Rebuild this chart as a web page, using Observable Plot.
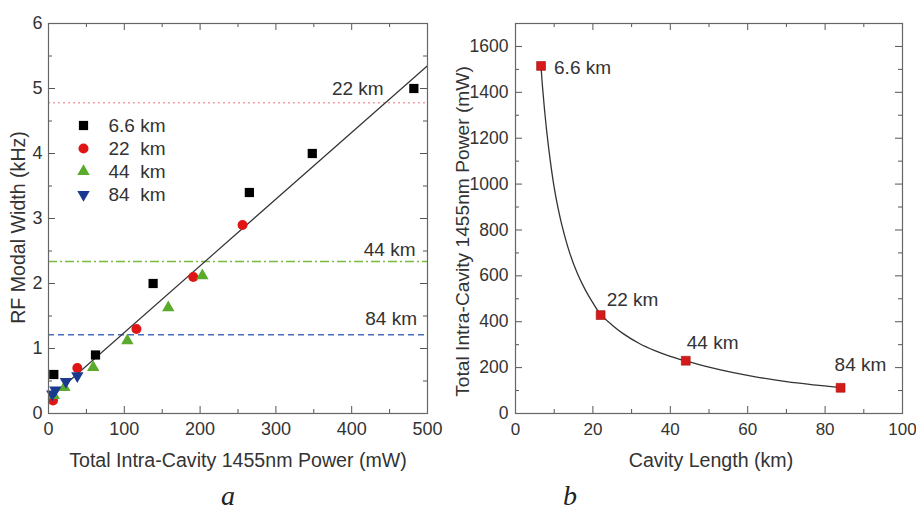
<!DOCTYPE html>
<html><head><meta charset="utf-8">
<script src="https://cdn.jsdelivr.net/npm/d3@7"></script>
<script src="https://cdn.jsdelivr.net/npm/@observablehq/plot@0.6"></script>
<style>
body{margin:0;background:#fff;}
#wrap{position:relative;width:916px;height:509px;overflow:hidden;background:#fff;}
#wrap svg{position:absolute;top:0;overflow:visible;}
#wrap svg text{white-space:pre;}
.cap{position:absolute;font-family:"Liberation Serif","Times New Roman",serif;font-style:italic;font-size:28px;color:#222;line-height:0.8;}
</style></head><body><div id="wrap"></div>
<script>
// ---------- Panel a data ----------
const seriesNames = ["6.6 km", "22  km", "44  km", "84  km"];
const power66 = [7, 62, 138, 265, 348, 482];
const width66 = [0.6, 0.9, 2.0, 3.4, 4.0, 5.0];
const power22 = [6, 38, 116, 191, 256];
const width22 = [0.2, 0.7, 1.3, 2.1, 2.9];
const power44 = [7, 21, 59, 104, 158, 203];
const width44 = [0.28, 0.4, 0.71, 1.12, 1.63, 2.12];
const power84 = [5, 9, 23, 38];
const width84 = [0.3, 0.36, 0.49, 0.58];
const fitPower = [0, 500];
const fitWidth = [0.22, 5.35];
const limitNames = ["22 km", "44 km", "84 km"];
const limitWidth = [4.78, 2.34, 1.21];
const limitLabelPower = [408, 450, 452];
const limitLabelWidth = [5.0, 2.51, 1.46];
const xTicksA = [0, 100, 200, 300, 400, 500];
const xMinorA = [50, 150, 250, 350, 450];
const yTicksA = [0, 1, 2, 3, 4, 5, 6];
const yMinorA = [0.5, 1.5, 2.5, 3.5, 4.5, 5.5];

// ---------- Panel b data ----------
const cavityNames = ["6.6 km", "22 km", "44 km", "84 km"];
const cavityLength = [6.6, 22, 44, 84];
const cavityPower = [1515, 429, 230, 112];
const curveLength = [6.6, 7, 8, 9, 10, 11, 12, 14, 16, 18, 20, 22, 25, 28, 32, 36, 40, 44, 50, 56, 62, 70, 77, 84];
const curvePower = [1515, 1420, 1240, 1100, 985, 895, 820, 700, 610, 540, 482, 432, 385, 346, 305, 274, 249, 229, 202, 179, 160, 139, 125, 113];
const xTicksB = [0, 20, 40, 60, 80, 100];
const xMinorB = [10, 30, 50, 70, 90];
const yTicksB = [0, 200, 400, 600, 800, 1000, 1200, 1400, 1600];
const yMinorB = [100, 300, 500, 700, 900, 1100, 1300, 1500];

const FONT = '"Liberation Sans", Arial, sans-serif';
const INK = "#333";
const TITLE = 19.6;
const fmt = d => String(d);

function frameTicks(fw, fh, xMaj, xMin, yMaj, yMin) {
  const s = "#555";
  return [
    Plot.tickX(xMaj, {x: d => d, insetTop: fh - 7, stroke: s}),
    Plot.tickX(xMin, {x: d => d, insetTop: fh - 4, stroke: s}),
    Plot.tickX(xMaj, {x: d => d, insetBottom: fh - 7, stroke: s}),
    Plot.tickX(xMin, {x: d => d, insetBottom: fh - 4, stroke: s}),
    Plot.tickY(yMaj, {y: d => d, insetRight: fw - 7, stroke: s}),
    Plot.tickY(yMin, {y: d => d, insetRight: fw - 4, stroke: s}),
    Plot.tickY(yMaj, {y: d => d, insetLeft: fw - 7, stroke: s}),
    Plot.tickY(yMin, {y: d => d, insetLeft: fw - 4, stroke: s}),
    Plot.frame({stroke: "#666", strokeWidth: 1.2})
  ];
}

const wrap = document.getElementById("wrap");

// ---------- Panel a ----------
{
  const W = 450, H = 480, mL = 48, mR = 23, mT = 23, mB = 67;
  const fw = W - mL - mR, fh = H - mT - mB;
  const pts = (xs, ys) => xs.map((x, i) => ({x, y: ys[i]}));
  const colors = ["#000000", "#e01616", "#5aab2c", "#1a3a8f"];
  const symbols = ["square", "circle", "triangle", "triangle"];
  const rots = [0, 0, 0, 180];
  const radii = [5.2, 5, 4.6, 4.6];
  const sets = [pts(power66, width66), pts(power22, width22), pts(power44, width44), pts(power84, width84)];
  const limitStroke = ["#f2a0a8", "#78bc3c", "#4a6cc0"];
  const limitDash = ["2,3", "9,3,2,3", "6,4"];
  const limits = limitWidth.map((y, i) => ({y, name: limitNames[i], lx: limitLabelPower[i], ly: limitLabelWidth[i]}));

  const marks = [];
  limits.forEach((d, i) => marks.push(Plot.ruleY([d], {y: "y", stroke: limitStroke[i], strokeDasharray: limitDash[i], strokeWidth: 1.5})));
  marks.push(Plot.text(limits, {x: "lx", y: "ly", text: "name", fontSize: 19, fill: INK}));
  marks.push(Plot.line(pts(fitPower, fitWidth), {x: "x", y: "y", stroke: "#333", strokeWidth: 1.2}));
  sets.forEach((s, i) => marks.push(Plot.dot(s, {x: "x", y: "y", symbol: symbols[i], fill: colors[i], r: radii[i], rotate: rots[i], stroke: "none"})));
  // legend
  const rowY = [102, 125, 148, 171];
  seriesNames.forEach((n, i) => {
    marks.push(Plot.dot([n], {frameAnchor: "top-left", dx: 35, dy: rowY[i], symbol: symbols[i], fill: colors[i], r: radii[i], rotate: rots[i]}));
    marks.push(Plot.text([n], {frameAnchor: "top-left", dx: 60, dy: rowY[i], text: d => d, textAnchor: "start", lineAnchor: "middle", fontSize: 19, fill: INK}));
  });
  marks.push(...frameTicks(fw, fh, xTicksA, xMinorA, yTicksA, yMinorA));
  marks.push(Plot.axisX(xTicksA, {anchor: "bottom", tickSize: 0, tickPadding: 9, label: null, tickFormat: fmt, fontSize: 18, fill: INK}));
  marks.push(Plot.axisY(yTicksA, {anchor: "left", tickSize: 0, tickPadding: 6, label: null, tickFormat: fmt, fontSize: 18, fill: INK}));
  marks.push(Plot.text(["Total Intra-Cavity 1455nm Power (mW)"], {frameAnchor: "bottom", dy: 47, lineAnchor: "middle", textAnchor: "middle", text: d => d, fontSize: TITLE, fill: INK}));
  marks.push(Plot.text(["RF Modal Width (kHz)"], {frameAnchor: "left", dx: -30, dy: 9, rotate: -90, textAnchor: "middle", lineAnchor: "middle", text: d => d, fontSize: TITLE, fill: INK}));

  const svg = Plot.plot({
    width: W, height: H, marginLeft: mL, marginRight: mR, marginTop: mT, marginBottom: mB,
    x: {domain: [0, 500], axis: null},
    y: {domain: [0, 6], axis: null},
    style: {fontFamily: FONT, background: "transparent", color: INK},
    marks
  });
  svg.style.left = "0px";
  wrap.appendChild(svg);
}

// ---------- Panel b ----------
{
  const W = 466, H = 480, mL = 65, mR = 14, mT = 23, mB = 67;
  const fw = W - mL - mR, fh = H - mT - mB;
  const pts = cavityLength.map((x, i) => ({x, y: cavityPower[i], name: cavityNames[i]}));
  const curve = curveLength.map((x, i) => ({x, y: curvePower[i]}));
  const labelDx = [13, 6, 1, -6];
  const labelDy = [2, -15, -18, -23];
  const marks = [];
  marks.push(Plot.line(curve, {x: "x", y: "y", stroke: "#333", strokeWidth: 1.3, curve: "catmull-rom"}));
  marks.push(Plot.dot(pts, {x: "x", y: "y", symbol: "square", fill: "#d41a1a", stroke: "#a30d0d", strokeWidth: 0.6, r: 5}));
  pts.forEach((d, i) => marks.push(Plot.text([d], {x: "x", y: "y", text: "name", textAnchor: "start", dx: labelDx[i], dy: labelDy[i], fontSize: 19, fill: INK})));
  marks.push(...frameTicks(fw, fh, xTicksB, xMinorB, yTicksB, yMinorB));
  marks.push(Plot.axisX(xTicksB, {anchor: "bottom", tickSize: 0, tickPadding: 9, label: null, tickFormat: fmt, fontSize: 17, fill: INK}));
  marks.push(Plot.axisY(yTicksB, {anchor: "left", tickSize: 0, tickPadding: 7, label: null, tickFormat: fmt, fontSize: 17.5, fill: INK}));
  marks.push(Plot.text(["Cavity Length (km)"], {frameAnchor: "bottom", dx: 2, dy: 47, lineAnchor: "middle", textAnchor: "middle", text: d => d, fontSize: TITLE, fill: INK}));
  marks.push(Plot.text(["Total Intra-Cavity 1455nm Power (mW)"], {frameAnchor: "left", dx: -53, dy: 13, rotate: -90, textAnchor: "middle", lineAnchor: "middle", text: d => d, fontSize: 19.2, fill: INK}));

  const svg = Plot.plot({
    width: W, height: H, marginLeft: mL, marginRight: mR, marginTop: mT, marginBottom: mB,
    x: {domain: [0, 100], axis: null},
    y: {domain: [0, 1700], axis: null},
    style: {fontFamily: FONT, background: "transparent", color: INK},
    marks
  });
  svg.style.left = "450px";
  wrap.appendChild(svg);
}

// ---------- panel captions ----------
[["a", 228], ["b", 570]].forEach(([t, x]) => {
  const d = document.createElement("div");
  d.className = "cap";
  d.textContent = t;
  d.style.left = (x - 7) + "px";
  d.style.top = "485px";
  wrap.appendChild(d);
});
</script></body></html>
